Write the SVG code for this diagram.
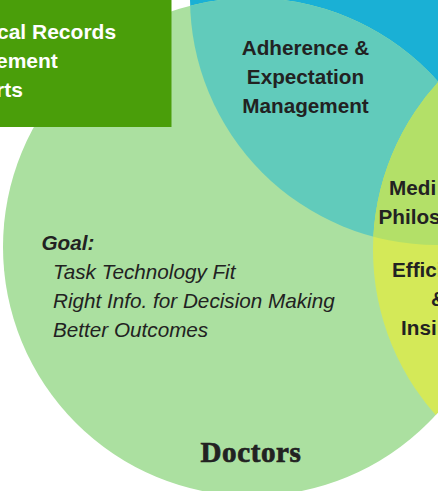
<svg xmlns="http://www.w3.org/2000/svg" width="438" height="491" viewBox="0 0 438 491">
<style>
.lbl{font-family:"Liberation Sans",Arial,sans-serif;font-weight:bold;font-size:20.7px;fill:#222;}
.box{font-family:"Liberation Sans",Arial,sans-serif;font-weight:bold;font-size:21px;fill:#fff;}
.goal{font-family:"Liberation Sans",Arial,sans-serif;font-style:italic;font-size:20.7px;fill:#222;}
.title{font-family:"Liberation Serif","Times New Roman",serif;font-weight:bold;font-size:29px;fill:#222;stroke:#222;stroke-width:0.7px;letter-spacing:0.6px;}
</style>
<defs>
<clipPath id="cDoc"><circle cx="252" cy="247" r="249"/></clipPath>
<clipPath id="cBlue"><circle cx="437" cy="-2" r="247"/></clipPath>
</defs>
<rect width="438" height="491" fill="#fff"/>
<g id="circle-blue"><circle cx="437" cy="-2" r="247" fill="#1ab0d5"/></g>
<g id="circle-doctors"><circle cx="252" cy="247" r="249" fill="#abe0a0"/></g>
<g id="overlap-adherence" clip-path="url(#cDoc)"><circle cx="437" cy="-2" r="247" fill="#61cbbb"/></g>
<g id="overlap-efficiency" clip-path="url(#cDoc)"><circle cx="622" cy="250" r="249" fill="#d4e958"/></g>
<g id="overlap-center" clip-path="url(#cDoc)"><g clip-path="url(#cBlue)"><circle cx="622" cy="250" r="249" fill="#b3e068"/></g></g>
<g id="emr-box">
<rect x="-5" y="-5" width="176.5" height="132" fill="#4a9e0a"/>
<text class="box" x="-3" y="39">cal Records</text>
<text class="box" x="-4" y="68">ement</text>
<text class="box" x="-4" y="97">rts</text>
</g>
<g id="label-adherence" text-anchor="middle">
<text class="lbl" x="305.5" y="54.5">Adherence &amp;</text>
<text class="lbl" x="305.5" y="84">Expectation</text>
<text class="lbl" x="305.5" y="113">Management</text>
</g>
<g id="label-center">
<text class="lbl" x="389" y="195">Medi</text>
<text class="lbl" x="378.5" y="223.5">Philos</text>
</g>
<g id="label-efficiency">
<text class="lbl" x="392" y="277">Effici</text>
<text class="lbl" x="431" y="306">&amp;</text>
<text class="lbl" x="401" y="335">Insi</text>
</g>
<g id="label-goal">
<text class="goal" x="41.5" y="250" font-weight="bold">Goal:</text>
<text class="goal" x="53" y="279">Task Technology Fit</text>
<text class="goal" x="53" y="308">Right Info. for Decision Making</text>
<text class="goal" x="53" y="337">Better Outcomes</text>
</g>
<g id="label-doctors"><text class="title" x="251" y="461.5" text-anchor="middle">Doctors</text></g>
</svg>
